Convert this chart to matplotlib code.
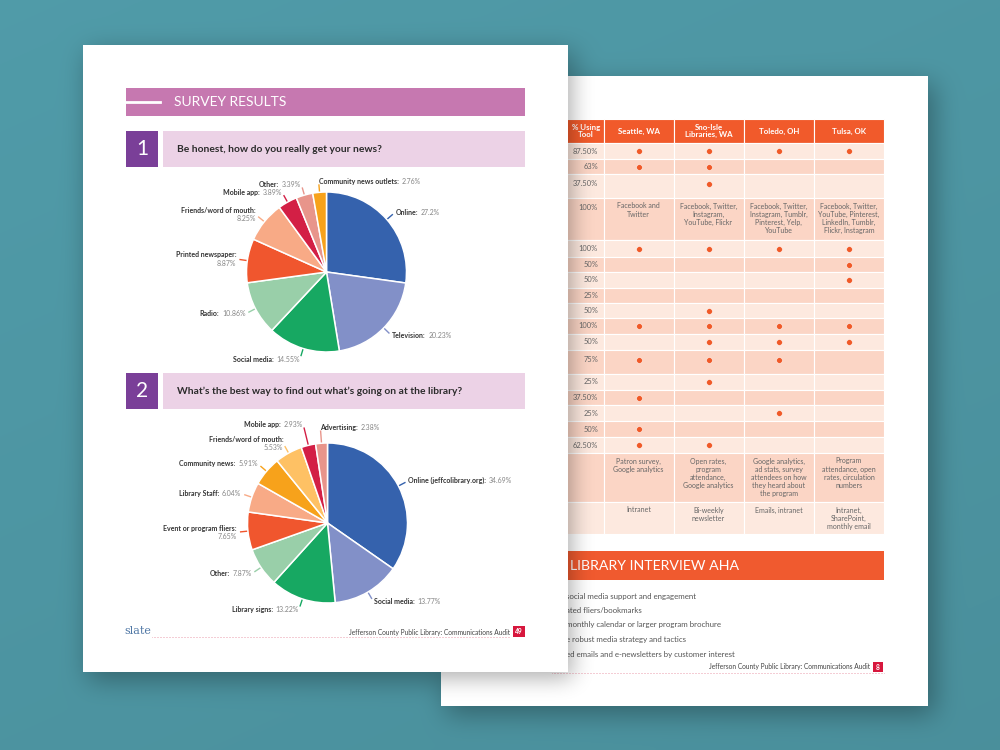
import numpy as np
import matplotlib.pyplot as plt
from matplotlib.patches import Rectangle
from matplotlib.offsetbox import TextArea, HPacker, VPacker, AnnotationBbox

plt.rcParams['font.family'] = ['Lato', 'DejaVu Sans']

# -------------------------------
# Data
# -------------------------------
q1_title = "Be honest, how do you really get your news?"
q1_names = ["Online", "Television", "Social media", "Radio", "Printed newspaper",
            "Friends/word of mouth", "Mobile app", "Other", "Community news outlets"]
q1_values = [27.2, 20.23, 14.55, 10.86, 8.87, 8.25, 3.89, 3.39, 2.76]

q2_title = "What\u2019s the best way to find out what\u2019s going on at the library?"
q2_names = ["Online (jeffcolibrary.org)", "Social media", "Library signs", "Other",
            "Event or program fliers", "Library Staff", "Community news",
            "Friends/word of mouth", "Mobile app", "Advertising"]
q2_values = [34.69, 13.77, 13.22, 7.87, 7.65, 6.04, 5.91, 5.53, 2.93, 2.38]

table_header = ["% Using\nTool", "Seattle, WA", "Sno-Isle\nLibraries, WA", "Toledo, OH", "Tulsa, OK"]
pct_using = ["87.50%", "63%", "37.50%", "100%", "100%", "50%", "50%", "25%", "50%", "100%",
             "50%", "75%", "25%", "37.50%", "25%", "50%", "62.50%", "", ""]
seattle = [True, True, False, "Facebook and\nTwitter", True, False, False, False, False, True,
           False, True, False, True, False, True, True,
           "Patron survey,\nGoogle analytics", "Intranet"]
sno_isle = [True, True, True, "Facebook, Twitter,\nInstagram,\nYouTube, Flickr", True, False, False,
            False, True, True, True, True, True, False, False, False, True,
            "Open rates,\nprogram\nattendance,\nGoogle analytics", "Bi-weekly\nnewsletter"]
toledo = [True, False, False, "Facebook, Twitter,\nInstagram, Tumblr,\nPinterest, Yelp,\nYouTube", True,
          False, False, False, False, True, True, True, False, False, True, False, False,
          "Google analytics,\nad stats, survey\nattendees on how\nthey heard about\nthe program",
          "Emails, intranet"]
tulsa = [True, False, False, "Facebook, Twitter,\nYouTube, Pinterest,\nLinkedIn, Tumblr,\nFlickr, Instagram",
         True, True, True, False, False, True, True, False, False, False, False, False, False,
         "Program\nattendance, open\nrates, circulation\nnumbers", "Intranet,\nSharePoint,\nmonthly email"]

aha_title = "LIBRARY INTERVIEW AHA"
aha_items = ["social media support and engagement", "ated fliers/bookmarks",
             "monthly calendar or larger program brochure", "e robust media strategy and tactics",
             "ed emails and e-newsletters by customer interest"]

footer_text = "Jefferson County Public Library: Communications Audit"

# -------------------------------
# Styles / layout
# -------------------------------
q1_colors = ["#3562ad", "#8290c8", "#17a862", "#99cfa9", "#f0562e", "#f8aa86", "#d31f45", "#e8958b", "#f7a21b"]
q2_colors = ["#3562ad", "#8290c8", "#17a862", "#99cfa9", "#f0562e", "#f8aa86", "#f7a21b", "#fec164", "#d31f45", "#e8958b"]
q1_wrap = [False, False, False, False, True, True, False, False, False]
q2_wrap = [False, False, False, False, True, False, False, True, False, False]
q1_label_r = [1.14] * 9
q2_label_r = [1.14] * 8 + [1.27, 1.2]

col_x = [552, 603.5, 673.5, 743.5, 814, 884]
row_h = [16, 15, 24, 42, 17, 15, 16, 15, 15, 16, 16, 24, 16, 15, 16, 16, 16, 49, 32]
header_y = (119, 143)

W, H = 1000, 750
fig = plt.figure(figsize=(10, 7.5), dpi=100)
ax = fig.add_axes([0, 0, 1, 1])
ax.axis('off')

yy, xx = np.mgrid[0:H, 0:W]


def rect_mask(x0, y0, x1, y1):
    return ((xx >= x0) & (xx < x1) & (yy >= y0) & (yy < y1)).astype(float)


def box_blur(a, r, axis):
    pad = [(0, 0), (0, 0)]
    pad[axis] = (r + 1, r)
    c = np.cumsum(np.pad(a, pad, mode='edge'), axis=axis)
    n = a.shape[axis]
    if axis == 0:
        return (c[2 * r + 1:2 * r + 1 + n] - c[:n]) / (2 * r + 1)
    return (c[:, 2 * r + 1:2 * r + 1 + n] - c[:, :n]) / (2 * r + 1)


def blur(a, r):
    for _ in range(3):
        a = box_blur(box_blur(a, r, 0), r, 1)
    return a


# background with drop shadows
base = np.array([0.30, 0.58, 0.63])
grad = 1.0 + 0.05 * (1 - yy / H) - 0.03 * (xx / W)
shadow = blur(np.maximum(rect_mask(446, 84, 934, 714), rect_mask(88, 52, 574, 680)), 12)
bg = base[None, None, :] * (grad * (1 - 0.32 * shadow))[..., None]
ax.imshow(np.clip(bg, 0, 1), extent=(0, W, H, 0), zorder=0, interpolation='bilinear', aspect='auto')

# right page
ax.add_patch(Rectangle((441, 76), 487, 630, fc='white', zorder=1))

# table header
for j in range(5):
    ax.add_patch(Rectangle((col_x[j], header_y[0]), col_x[j + 1] - col_x[j], header_y[1] - header_y[0],
                           fc='#f15a2b', ec='white', lw=0.8, zorder=2))
    cx = (col_x[j] + col_x[j + 1]) / 2 if j else 586
    ax.text(cx, (header_y[0] + header_y[1]) / 2, table_header[j], color='white', fontsize=5.7,
            fontweight='bold', ha='center', va='center', linespacing=1.1, zorder=3)

cols = [seattle, sno_isle, toledo, tulsa]
y0 = header_y[1]
dots_x, dots_y = [], []
for i, h in enumerate(row_h):
    fc = '#fde9df' if i % 2 == 0 else '#fbd5c5'
    for j in range(5):
        ax.add_patch(Rectangle((col_x[j], y0), col_x[j + 1] - col_x[j], h, fc=fc, ec='white', lw=0.8, zorder=2))
    ty = y0 + min(h / 2, 10)
    ax.text(598, ty, pct_using[i], color='#666666', fontsize=5.4, ha='right', va='center', zorder=3)
    for j, col in enumerate(cols):
        cx = (col_x[j + 1] + col_x[j + 2]) / 2
        v = col[i]
        if v is True:
            dots_x.append(cx)
            dots_y.append(ty)
        elif isinstance(v, str):
            ax.text(cx, y0 + 4.5, v, color='#666666', fontsize=5, ha='center', va='top',
                    linespacing=1.2, zorder=3)
    y0 += h
ax.scatter(dots_x, dots_y, s=17, color='#f05a28', edgecolor='white', linewidth=0.3, zorder=3)

# interview bar + list
ax.add_patch(Rectangle((552, 551), 884 - 552, 29, fc='#f05a2f', zorder=2))
ax.text(570, 566, aha_title, color='white', fontsize=10.2, va='center', zorder=3)
for k, item in enumerate(aha_items):
    ax.text(566, 596 + k * 14.5, item, color='#555555', fontsize=5.7, va='center', zorder=3)
ax.plot([552, 884], [673, 673], color='#e58a9b', lw=0.6, ls=(0, (0.6, 1.2)), zorder=3)
ax.text(870, 667, footer_text, color='#444444', fontsize=4.8, ha='right', va='center', zorder=3)
ax.add_patch(Rectangle((873, 662), 10, 10, fc='#d7173d', zorder=3))
ax.text(878, 667, "8", color='white', fontsize=4.8, fontweight='bold', ha='center', va='center', zorder=3)

# shadow of left page on right page
ls = blur(rect_mask(86, 50, 572, 678), 10)
over = np.zeros((H, W, 4))
over[..., 3] = 0.32 * ls * rect_mask(441, 76, 928, 706)
ax.imshow(over, extent=(0, W, H, 0), zorder=4, interpolation='bilinear', aspect='auto')

# left page
ax.add_patch(Rectangle((83, 45), 485, 627, fc='white', zorder=5))
ax.add_patch(Rectangle((126, 88), 399, 28, fc='#c678b0', zorder=6))
ax.plot([126, 160], [102, 102], color='white', lw=2, zorder=7)
ax.text(174, 102.5, "SURVEY RESULTS", color='white', fontsize=10, va='center', zorder=7)

for num, title, top in [("1", q1_title, 131), ("2", q2_title, 373)]:
    ax.add_patch(Rectangle((126, top), 32, 36, fc='#7a3f98', zorder=6))
    ax.add_patch(Rectangle((163, top), 362, 36, fc='#ecd2e6', zorder=6))
    ax.text(142, top + 18, num, color='white', fontsize=15, ha='center', va='center', zorder=7)
    ax.text(177, top + 18.5, title, color='#2b2b2b', fontsize=7.35, fontweight='bold', va='center', zorder=7)

# footer left
ax.text(124, 631, "slate", color='#4f77a5', fontsize=8, family='DejaVu Serif', va='center', zorder=7)
ax.plot([152, 510], [636.5, 636.5], color='#e58a9b', lw=0.6, ls=(0, (0.6, 1.2)), zorder=7)
ax.text(510, 632, footer_text, color='#444444', fontsize=4.8, ha='right', va='center', zorder=7)
ax.add_patch(Rectangle((513, 626), 12, 11, fc='#d7173d', zorder=7))
ax.text(519, 631.5, "49", color='white', fontsize=4.8, fontweight='bold', ha='center', va='center', zorder=7)

ax.set_xlim(0, W)
ax.set_ylim(H, 0)


def draw_pie(cx, cy, R, names, values, colors, wrap, label_r):
    pax = fig.add_axes([(cx - R) / W, 1 - (cy + R) / H, 2 * R / W, 2 * R / H])
    wedges, _ = pax.pie(values, colors=colors, startangle=90, counterclock=False,
                        wedgeprops=dict(edgecolor='white', linewidth=1.1))
    for w in wedges:
        w.set_clip_on(False)
    pax.set_xlim(-1, 1)
    pax.set_ylim(-1, 1)
    pax.axis('off')
    for w, name, v, c, wr, lr in zip(wedges, names, values, colors, wrap, label_r):
        mid = np.deg2rad((w.theta1 + w.theta2) / 2)
        dx, dy = np.cos(mid), -np.sin(mid)
        ax.plot([cx + dx * R * 0.99, cx + dx * R * (lr - 0.04)], [cy + dy * R * 0.99, cy + dy * R * (lr - 0.04)],
                color=c, lw=1, zorder=8, solid_capstyle='butt')
        left = dx > -0.1
        na = TextArea(name + ":", textprops=dict(fontsize=5.0, fontweight='bold', color='#333333'))
        va = TextArea(f"{v:g}%", textprops=dict(fontsize=5.0, color='#858585'))
        if wr:
            box = VPacker(children=[na, va], align='left' if left else 'right', pad=0, sep=1)
        else:
            box = HPacker(children=[na, va], align='baseline', pad=0, sep=2)
        ab = AnnotationBbox(box, (cx + dx * R * lr, cy + dy * R * lr), xycoords='data',
                            box_alignment=(0 if left else 1, 0.5), frameon=False, pad=0,
                            annotation_clip=False, zorder=9)
        ax.add_artist(ab)


draw_pie(326.5, 272, 80, q1_names, q1_values, q1_colors, q1_wrap, q1_label_r)
draw_pie(327.5, 523, 80, q2_names, q2_values, q2_colors, q2_wrap, q2_label_r)

fig.savefig("out.png", dpi=100)
